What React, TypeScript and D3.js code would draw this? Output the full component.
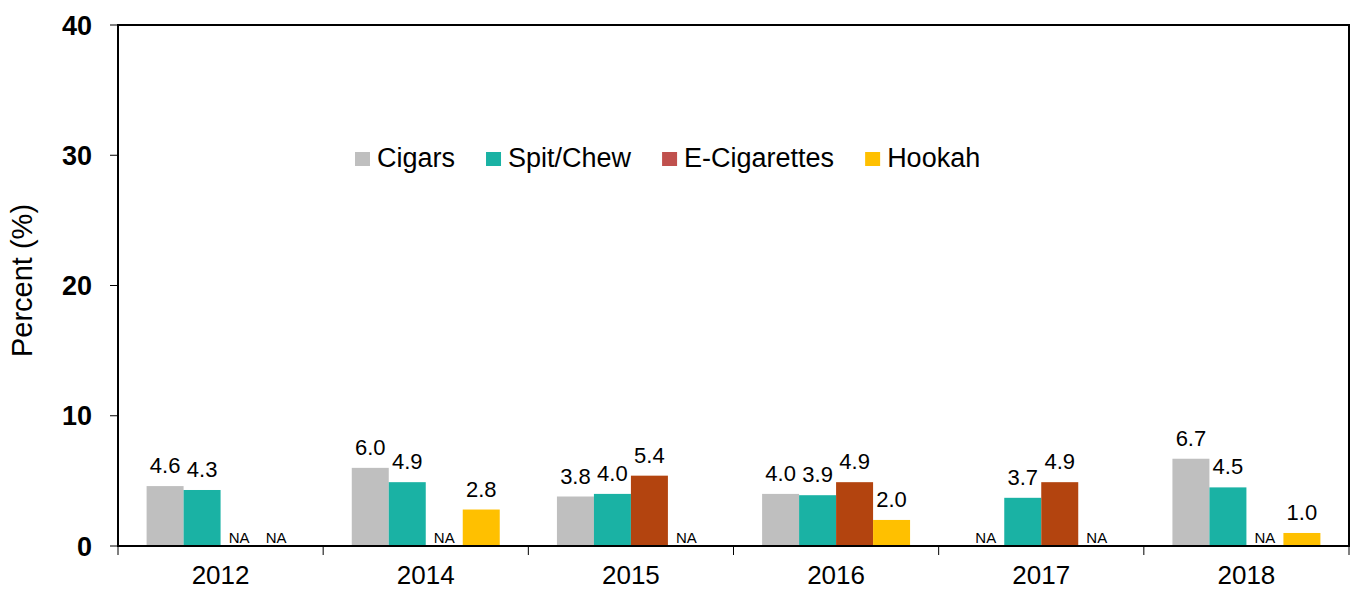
import * as d3 from "d3";

const years = ["2012", "2014", "2015", "2016", "2017", "2018"];
const seriesNames = ["Cigars", "Spit/Chew", "E-Cigarettes", "Hookah"];
const cigars = [4.6, 6.0, 3.8, 4.0, null, 6.7];
const spitChew = [4.3, 4.9, 4.0, 3.9, 3.7, 4.5];
const eCigs = [null, null, 5.4, 4.9, 4.9, null];
const hookah = [null, 2.8, null, 2.0, null, 1.0];
const yTicks = [0, 10, 20, 30, 40];

const barColors = ["#BFBFBF", "#1AB2A4", "#B3440F", "#FFC000"];
const legendColors = ["#BFBFBF", "#1AB2A4", "#C0504D", "#FFC000"];

const W = 1352;
const H = 589;
const plot = { left: 118, right: 1349, top: 25, bottom: 546 };
const FONT = "Arial, 'Liberation Sans', sans-serif";

const measure = (text: string, size: number) => {
  const ctx = document.createElement("canvas").getContext("2d");
  if (!ctx) return text.length * size * 0.55;
  ctx.font = `${size}px 'Liberation Sans', Arial, sans-serif`;
  return ctx.measureText(text).width;
};

const App = () => {
  const values = [cigars, spitChew, eCigs, hookah];

  const x = d3.scaleBand<string>().domain(years).range([plot.left, plot.right]);
  const xs = d3
    .scaleBand<string>()
    .domain(seriesNames)
    .range([0, x.bandwidth()])
    .paddingInner(0)
    .paddingOuter(0.773);
  const y = d3.scaleLinear().domain([0, 40]).range([plot.bottom, plot.top]);

  // legend layout
  const legendSize = 27;
  let lx = 355;
  const legendItems = seriesNames.map((name, i) => {
    const item = { name, x: lx, color: legendColors[i] };
    lx += 22 + measure(name, legendSize) + 31;
    return item;
  });

  const boundaries = [...years.map((yr) => x(yr) as number), plot.right];

  return (
    <div style={{ position: "absolute", left: 0, top: 0 }}>
      <svg width={W} height={H} style={{ display: "block", fontFamily: FONT }}>
        <rect width={W} height={H} fill="#fff" />

        {/* bars */}
        {years.map((yr, gi) =>
          seriesNames.map((s, si) => {
            const v = values[si][gi];
            const bx = (x(yr) as number) + (xs(s) as number);
            const bw = xs.bandwidth();
            if (v == null) {
              return (
                <text
                  key={yr + s}
                  x={bx + bw / 2}
                  y={plot.bottom - 3}
                  textAnchor="middle"
                  fontSize={15}
                  fill="#000"
                >
                  NA
                </text>
              );
            }
            return (
              <g key={yr + s}>
                <rect
                  x={bx}
                  y={y(v)}
                  width={bw}
                  height={plot.bottom - y(v)}
                  fill={barColors[si]}
                />
                <text
                  x={bx + bw / 2}
                  y={y(v) - 13}
                  textAnchor="middle"
                  fontSize={22}
                  fill="#000"
                >
                  {v.toFixed(1)}
                </text>
              </g>
            );
          })
        )}

        {/* plot border */}
        <rect
          x={plot.left}
          y={plot.top}
          width={plot.right - plot.left}
          height={plot.bottom - plot.top}
          fill="none"
          stroke="#000"
          strokeWidth={2}
        />

        {/* y axis */}
        {yTicks.map((t) => (
          <g key={t}>
            <line x1={plot.left - 8} x2={plot.left} y1={y(t)} y2={y(t)} stroke="#000" strokeWidth={1} />
            <text
              x={92}
              y={y(t)}
              dy="0.36em"
              textAnchor="end"
              fontSize={27}
              fontWeight="bold"
              fill="#000"
            >
              {t}
            </text>
          </g>
        ))}
        <text
          transform={`translate(32, ${(plot.top + plot.bottom) / 2 - 5}) rotate(-90)`}
          textAnchor="middle"
          fontSize={29}
          fill="#000"
        >
          Percent (%)
        </text>

        {/* x axis */}
        {boundaries.map((bx, i) => (
          <line key={i} x1={bx} x2={bx} y1={plot.bottom} y2={plot.bottom + 9} stroke="#000" strokeWidth={1} />
        ))}
        {years.map((yr) => (
          <text
            key={yr}
            x={(x(yr) as number) + x.bandwidth() / 2}
            y={584}
            textAnchor="middle"
            fontSize={26}
            fill="#000"
          >
            {yr}
          </text>
        ))}

        {/* legend */}
        {legendItems.map((it) => (
          <g key={it.name}>
            <rect x={it.x} y={152} width={15} height={14} fill={it.color} />
            <text x={it.x + 22} y={167} fontSize={legendSize} fill="#000">
              {it.name}
            </text>
          </g>
        ))}
      </svg>
    </div>
  );
};

export default App;
